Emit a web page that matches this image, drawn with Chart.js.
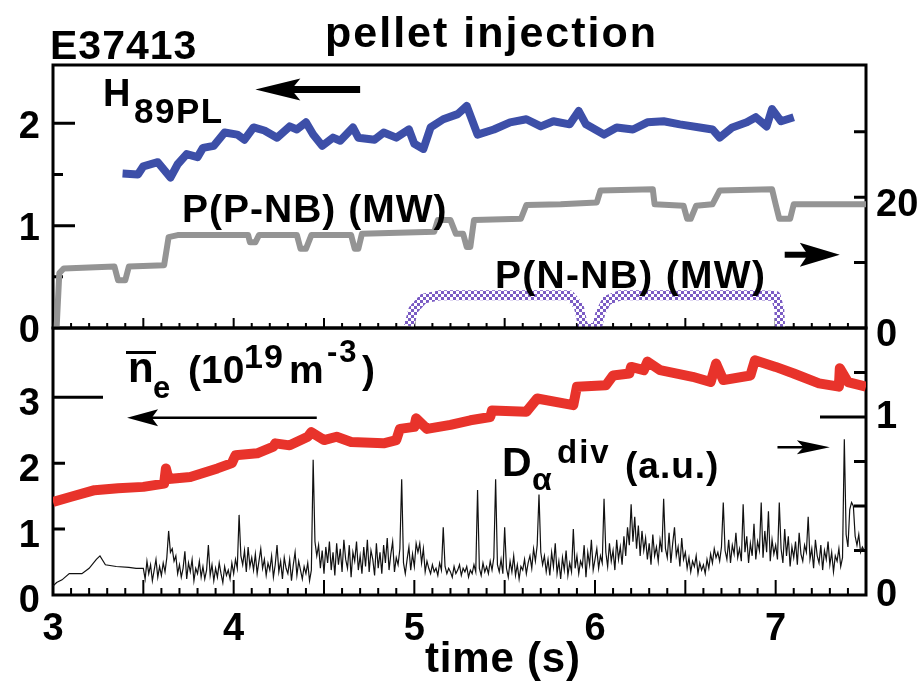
<!DOCTYPE html>
<html lang="en">
<head>
<meta charset="UTF-8">
<title>E37413 pellet injection</title>
<script src="https://cdn.jsdelivr.net/npm/chart.js"></script>
<style>
  body { margin: 0; background: #fff; }
  #wrap {
    position: relative; width: 922px; height: 685px; overflow: hidden;
    font-family: "Liberation Sans", Arial, sans-serif; font-weight: bold; color: #000;
  }
  #wrap canvas { position: absolute; left: 0; top: 0; }
  .t { position: absolute; line-height: 1; white-space: nowrap; }
</style>
</head>
<body>
<div id="wrap">
  <canvas id="topChart" width="922" height="685"></canvas>
  <canvas id="botChart" width="922" height="685"></canvas>

  <div class="t" style="left:50px;top:25px;font-size:41px;letter-spacing:1px">E37413</div>
  <div class="t" style="left:325px;top:11px;font-size:43px;letter-spacing:2px">pellet injection</div>

  <div class="t" style="left:103px;top:74px;font-size:38px">H</div>
  <div class="t" style="left:134px;top:93px;font-size:35px;letter-spacing:1.5px">89PL</div>
  <div class="t" style="left:182px;top:189px;font-size:39px;letter-spacing:1px">P(P-NB) (MW)</div>
  <div class="t" style="left:495px;top:255px;font-size:39px;letter-spacing:1.3px">P(N-NB) (MW)</div>

  <div class="t" style="left:128px;top:347px;font-size:42px">n</div>
  <div style="position:absolute;left:126px;top:351px;width:30px;height:3px;background:#000"></div>
  <div class="t" style="left:153px;top:372px;font-size:31px">e</div>
  <div class="t" style="left:188px;top:350px;font-size:39px">(10</div>
  <div class="t" style="left:244px;top:339px;font-size:34px;letter-spacing:1px">19</div>
  <div class="t" style="left:289px;top:350px;font-size:39px">m</div>
  <div class="t" style="left:327px;top:336px;font-size:31px;letter-spacing:2px">-3</div>
  <div class="t" style="left:362px;top:350px;font-size:39px">)</div>

  <div class="t" style="left:502px;top:442px;font-size:41px">D</div>
  <div class="t" style="left:532px;top:463px;font-size:32px">α</div>
  <div class="t" style="left:557px;top:435px;font-size:33px;letter-spacing:2px">div</div>
  <div class="t" style="left:625px;top:447px;font-size:37px;letter-spacing:1px">(a.u.)</div>

  <div class="t" style="left:425px;top:637px;font-size:42px;letter-spacing:0.8px">time (s)</div>
</div>

<script>
// H89PL (left axis, top panel)
const hTime = [3.385, 3.47, 3.50, 3.58, 3.65, 3.69, 3.74, 3.80, 3.83, 3.89, 3.95, 4.02, 4.06, 4.11, 4.17,
  4.24, 4.31, 4.35, 4.40, 4.44, 4.49, 4.55, 4.59, 4.66, 4.69, 4.78, 4.83, 4.90, 4.97, 5.00,
  5.05, 5.09, 5.16, 5.24, 5.29, 5.35, 5.44, 5.53, 5.62, 5.70, 5.77, 5.86, 5.91, 5.95, 6.05,
  6.12, 6.21, 6.29, 6.38, 6.47, 6.58, 6.65, 6.69, 6.76, 6.84, 6.89, 6.95, 6.98, 7.03, 7.10];
const hValue = [1.51, 1.50, 1.58, 1.62, 1.47, 1.60, 1.70, 1.67, 1.76, 1.78, 1.91, 1.89, 1.84, 1.96, 1.93,
  1.86, 1.97, 1.94, 2.01, 1.89, 1.78, 1.86, 1.83, 1.96, 1.86, 1.84, 1.91, 1.86, 1.94, 1.80,
  1.75, 1.96, 2.04, 2.09, 2.17, 1.89, 1.94, 2.01, 2.04, 1.97, 2.02, 1.99, 2.12, 1.99, 1.89,
  1.96, 1.94, 2.01, 2.02, 1.99, 1.96, 1.94, 1.86, 1.96, 2.01, 2.06, 1.97, 2.14, 2.02, 2.06];

// P(P-NB) in MW (right axis, top panel)
const pTime = [3.02, 3.035, 3.06, 3.34, 3.36, 3.40, 3.42, 3.615, 3.64, 3.69, 4.08, 4.09, 4.12, 4.14, 4.35,
  4.37, 4.40, 4.43, 4.65, 4.67, 4.69, 4.71, 5.11, 5.13, 5.20, 5.23, 5.27, 5.29, 5.31, 5.33,
  5.59, 5.62, 5.81, 6.01, 6.03, 6.32, 6.33, 6.49, 6.51, 6.53, 6.56, 6.65, 6.69, 6.98, 7.00,
  7.02, 7.08, 7.10, 7.50];
const pValue = [0, 8.4, 9.1, 9.4, 7.3, 7.3, 9.4, 9.6, 13.9, 14.2, 14.2, 13.1, 13.1, 14.2, 14.2,
  12.1, 12.1, 14.2, 14.2, 12.1, 12.1, 14.4, 14.7, 16.5, 16.5, 14.4, 14.4, 12.4, 12.4, 16.5,
  16.7, 18.8, 18.9, 19.2, 21.0, 21.2, 18.9, 18.7, 16.7, 16.7, 18.7, 18.9, 21.0, 21.2, 18.9,
  16.7, 16.7, 18.9, 18.9];

// P(N-NB) in MW (right axis, top panel)
const nTime = [4.97, 4.995, 5.05, 5.14, 5.30, 5.86, 5.91, 5.93, 5.935, 6.01, 6.03, 6.065, 6.14, 6.91, 7.00, 7.02, 7.025];
const nValue = [0.3, 2.8, 4.5, 5.0, 5.0, 5.0, 3.3, 0.8, 0, 0, 2.3, 4.2, 5.0, 5.0, 4.9, 2.8, 0];

// line-averaged density, 10^19 m^-3 (left axis, bottom panel)
const neTime = [3.00, 3.10, 3.23, 3.36, 3.50, 3.615, 3.625, 3.64, 3.76, 3.91, 3.99, 4.01, 4.13, 4.22, 4.23,
  4.31, 4.41, 4.43, 4.50, 4.57, 4.65, 4.83, 4.90, 4.92, 5.00, 5.01, 5.07, 5.20, 5.31, 5.42,
  5.43, 5.62, 5.68, 5.88, 5.90, 6.06, 6.10, 6.19, 6.20, 6.27, 6.29, 6.36, 6.54, 6.64, 6.67,
  6.71, 6.86, 6.885, 7.00, 7.10, 7.24, 7.35, 7.355, 7.40, 7.50];
const neValue = [1.41, 1.49, 1.59, 1.62, 1.64, 1.69, 1.92, 1.76, 1.79, 1.92, 2.00, 2.12, 2.15, 2.25, 2.30,
  2.27, 2.40, 2.47, 2.35, 2.40, 2.32, 2.30, 2.35, 2.52, 2.55, 2.68, 2.52, 2.58, 2.65, 2.70,
  2.80, 2.78, 2.98, 2.88, 3.16, 3.18, 3.33, 3.36, 3.46, 3.41, 3.54, 3.41, 3.31, 3.23, 3.51,
  3.26, 3.33, 3.56, 3.46, 3.36, 3.21, 3.16, 3.44, 3.23, 3.16];

// D-alpha divertor (a.u., right axis, bottom panel): slow start, then sampled every 0.01 s
const daEarlyTime = [3.00, 3.02, 3.05, 3.09, 3.16, 3.20, 3.24, 3.26, 3.29, 3.35, 3.42, 3.46];
const daEarlyValue = [0.05, 0.07, 0.085, 0.12, 0.12, 0.15, 0.20, 0.22, 0.17, 0.16, 0.155, 0.15];
const daStart = 3.50, daStep = 0.01;
const daValue = [
  0.15, 0.09, 0.19, 0.12, 0.17, 0.08, 0.14, 0.20, 0.10, 0.16,
  0.11, 0.18, 0.13, 0.21, 0.36, 0.24, 0.26, 0.19, 0.22, 0.12,
  0.17, 0.10, 0.15, 0.245, 0.09, 0.18, 0.13, 0.20, 0.08, 0.15,
  0.12, 0.19, 0.10, 0.16, 0.09, 0.14, 0.28, 0.11, 0.17, 0.08,
  0.15, 0.10, 0.18, 0.12, 0.07, 0.16, 0.11, 0.14, 0.09, 0.18,
  0.12, 0.20, 0.15, 0.45, 0.22, 0.17, 0.25, 0.13, 0.27, 0.16,
  0.21, 0.14, 0.23, 0.12, 0.19, 0.26, 0.15, 0.20, 0.11, 0.18,
  0.14, 0.22, 0.10, 0.17, 0.28, 0.13, 0.19, 0.09, 0.21, 0.15,
  0.12, 0.20, 0.08, 0.17, 0.24, 0.11, 0.19, 0.14, 0.09, 0.16,
  0.12, 0.18, 0.08, 0.14, 0.76, 0.30, 0.22, 0.28, 0.15, 0.25,
  0.12, 0.27, 0.18, 0.30, 0.14, 0.24, 0.11, 0.29, 0.17, 0.26,
  0.13, 0.31, 0.20, 0.15, 0.28, 0.10, 0.24, 0.19, 0.30, 0.14,
  0.22, 0.12, 0.27, 0.16, 0.31, 0.13, 0.25, 0.20, 0.11, 0.29,
  0.15, 0.24, 0.12, 0.28, 0.18, 0.32, 0.14, 0.23, 0.30, 0.13,
  0.21, 0.17, 0.26, 0.65, 0.18, 0.12, 0.20, 0.27, 0.14, 0.23,
  0.16, 0.29, 0.24, 0.29, 0.18, 0.26, 0.13, 0.19, 0.15, 0.12,
  0.17, 0.13, 0.15, 0.11, 0.18, 0.14, 0.38, 0.16, 0.12, 0.15,
  0.13, 0.10, 0.16, 0.12, 0.14, 0.17, 0.11, 0.15, 0.13, 0.16,
  0.10, 0.14, 0.12, 0.17, 0.13, 0.59, 0.15, 0.11, 0.18, 0.13,
  0.16, 0.12, 0.19, 0.14, 0.21, 0.65, 0.17, 0.13, 0.20, 0.12,
  0.38, 0.15, 0.10, 0.19, 0.13, 0.22, 0.11, 0.17, 0.09, 0.16,
  0.14, 0.20, 0.12, 0.18, 0.22, 0.15, 0.26, 0.19, 0.28, 0.565,
  0.24, 0.17, 0.22, 0.13, 0.20, 0.11, 0.24, 0.16, 0.29, 0.12,
  0.19, 0.09, 0.21, 0.14, 0.25, 0.11, 0.18, 0.13, 0.37, 0.15,
  0.22, 0.12, 0.19, 0.16, 0.28, 0.10, 0.24, 0.17, 0.31, 0.14,
  0.20, 0.26, 0.15, 0.22, 0.18, 0.54, 0.24, 0.16, 0.29, 0.19,
  0.25, 0.14, 0.31, 0.20, 0.27, 0.17, 0.33, 0.22, 0.38, 0.28,
  0.51, 0.30, 0.44, 0.26, 0.39, 0.22, 0.36, 0.25, 0.32, 0.20,
  0.29, 0.17, 0.34, 0.22, 0.27, 0.19, 0.31, 0.24, 0.54, 0.26,
  0.21, 0.35, 0.18, 0.29, 0.38, 0.22, 0.27, 0.16, 0.32, 0.20,
  0.24, 0.15, 0.21, 0.13, 0.19, 0.16, 0.22, 0.12, 0.18, 0.14,
  0.17, 0.12, 0.20, 0.15, 0.23, 0.18, 0.26, 0.21, 0.24, 0.19,
  0.27, 0.52, 0.25, 0.20, 0.31, 0.18, 0.28, 0.23, 0.35, 0.21,
  0.26, 0.19, 0.51, 0.24, 0.33, 0.18, 0.29, 0.22, 0.40, 0.20,
  0.30, 0.25, 0.52, 0.21, 0.36, 0.24, 0.47, 0.19, 0.31, 0.23,
  0.28, 0.20, 0.52, 0.26, 0.18, 0.37, 0.22, 0.33, 0.16, 0.27,
  0.21, 0.30, 0.17, 0.35, 0.23, 0.19, 0.28, 0.24, 0.44, 0.20,
  0.26, 0.15, 0.31, 0.22, 0.18, 0.28, 0.14, 0.25, 0.20, 0.30,
  0.17, 0.24, 0.13, 0.22, 0.19, 0.26, 0.16, 0.21, 0.875, 0.34,
  0.27, 0.48, 0.52, 0.50, 0.33, 0.28, 0.34, 0.24, 0.27, 0.25];

// labelled ticks and inward tick marks
const hLabelTicks = [0, 1, 2];
const pLabelTicks = [0, 20];
const neLabelTicks = [0, 1, 2, 3];
const daLabelTicks = [0, 1];
const hMajorTicks = [1, 2];
const hMinorTicks = [0.5, 1.5];
const pTicks = [10, 20, 30];
const neShortTicks = [1, 2];
const neLongTicks = [3];
const daShortTicks = [0.25, 0.5, 0.75, 1.25];
const daLongTicks = [1];

const pts = (xs, ys) => xs.map((x, i) => ({ x: x, y: ys[i] }));
const daPoints = pts(daEarlyTime, daEarlyValue)
  .concat(daValue.map((v, i) => ({ x: +(daStart + i * daStep).toFixed(2), y: v })));
const fixedTicks = list => s => { s.ticks = list.map(v => ({ value: v })); };

const fontFamily = '"Liberation Sans", Arial, sans-serif';
const tickFont = { family: fontFamily, size: 38, weight: 'bold' };

// checkered purple stroke for P(N-NB)
const pc = document.createElement('canvas');
pc.width = 6; pc.height = 6;
const pctx = pc.getContext('2d');
pctx.fillStyle = '#ffffff'; pctx.fillRect(0, 0, 6, 6);
pctx.fillStyle = '#7b5cc4';
pctx.fillRect(0, 0, 3, 3); pctx.fillRect(3, 3, 3, 3);
const checker = pctx.createPattern(pc, 'repeat');

const panelDecor = {
  id: 'panelDecor',
  beforeDatasetsDraw(chart, args, o) {
    const { ctx, chartArea: a, scales } = chart;
    ctx.save();
    ctx.strokeStyle = '#000';
    ctx.lineWidth = o.frameWidth;
    ctx.strokeRect(a.left, a.top, a.right - a.left, a.bottom - a.top);
    ctx.lineWidth = 2;
    ctx.beginPath();
    scales.x.ticks.forEach(t => {
      const px = scales.x.getPixelForValue(t.value);
      const half = Math.abs(t.value * 2 - Math.round(t.value * 2)) < 1e-6;
      ctx.moveTo(px, a.bottom);
      ctx.lineTo(px, a.bottom - (half ? o.xLong : o.xShort));
    });
    ctx.stroke();
    ctx.lineWidth = 3;
    ctx.beginPath();
    o.yTicks.forEach(g => {
      const s = scales[g.axis];
      g.values.forEach(v => {
        const py = s.getPixelForValue(v);
        if (s.position === 'left') { ctx.moveTo(a.left, py); ctx.lineTo(a.left + g.len, py); }
        else { ctx.moveTo(a.right, py); ctx.lineTo(a.right - g.len, py); }
      });
    });
    ctx.stroke();
    ctx.restore();
  },
  afterDatasetsDraw(chart, args, o) {
    const { ctx, scales } = chart;
    ctx.save();
    ctx.strokeStyle = '#000';
    ctx.fillStyle = '#000';
    o.arrows.forEach(ar => {
      const xs = scales.x, ys = scales[ar.y];
      const x1 = xs.getPixelForValue(ar.from), x2 = xs.getPixelForValue(ar.to);
      const y = ys.getPixelForValue(ar.at);
      const dir = Math.sign(x2 - x1);
      const hb = x2 - dir * ar.head;
      ctx.lineWidth = ar.width;
      ctx.beginPath(); ctx.moveTo(x1, y); ctx.lineTo(hb + dir * ar.head * 0.3, y); ctx.stroke();
      ctx.beginPath();
      ctx.moveTo(x2, y);
      ctx.lineTo(hb, y - ar.half);
      ctx.lineTo(hb + dir * ar.head * 0.2, y);
      ctx.lineTo(hb, y + ar.half);
      ctx.closePath();
      ctx.fill();
    });
    ctx.restore();
  }
};

const hiddenGrid = { display: false, drawTicks: false };

new Chart(document.getElementById('topChart'), {
  type: 'line',
  data: {
    datasets: [
      { data: pts(pTime, pValue), yAxisID: 'yP', borderColor: '#949494', borderWidth: 6 },
      { data: pts(nTime, nValue), yAxisID: 'yP', borderColor: checker, borderWidth: 10 },
      { data: pts(hTime, hValue), yAxisID: 'yH', borderColor: '#3d4fa8', borderWidth: 8 }
    ]
  },
  options: {
    responsive: false,
    animation: false,
    layout: { padding: { top: 65, bottom: 685 - 328, left: 0, right: 0 } },
    elements: {
      point: { radius: 0 },
      line: { tension: 0, borderJoinStyle: 'round', borderCapStyle: 'butt' }
    },
    plugins: {
      legend: { display: false },
      tooltip: { enabled: false },
      panelDecor: {
        frameWidth: 3, xShort: 5, xLong: 10,
        yTicks: [
          { axis: 'yH', values: hMajorTicks, len: 22 },
          { axis: 'yH', values: hMinorTicks, len: 10 },
          { axis: 'yP', values: pTicks, len: 12 }
        ],
        arrows: [
          { y: 'yH', from: 4.70, to: 4.12, at: 2.33, width: 7, head: 45, half: 11 },
          { y: 'yP', from: 7.05, to: 7.355, at: 11.2, width: 6, head: 40, half: 12 }
        ]
      }
    },
    scales: {
      x: {
        type: 'linear', min: 3, max: 7.5,
        ticks: { display: false, stepSize: 0.1, autoSkip: false },
        grid: hiddenGrid, border: { display: false },
        afterFit(s) { s.height = 0; }
      },
      yH: {
        position: 'left', min: 0, max: 2.57,
        afterBuildTicks: fixedTicks(hLabelTicks),
        ticks: { autoSkip: false, font: tickFont, color: '#000', padding: 13, labelOffset: 4 },
        grid: hiddenGrid, border: { display: false },
        afterFit(s) { s.width = 53; }
      },
      yP: {
        position: 'right', min: 0, max: 40.2,
        afterBuildTicks: fixedTicks(pLabelTicks),
        ticks: { autoSkip: false, font: tickFont, color: '#000', padding: 10, labelOffset: 8 },
        grid: hiddenGrid, border: { display: false },
        afterFit(s) { s.width = 56; }
      }
    }
  },
  plugins: [panelDecor]
});

new Chart(document.getElementById('botChart'), {
  type: 'line',
  data: {
    datasets: [
      { data: daPoints, yAxisID: 'yD', borderColor: '#111111', borderWidth: 1.2, borderJoinStyle: 'miter' },
      { data: pts(neTime, neValue), yAxisID: 'yN', borderColor: '#e8332b', borderWidth: 10 }
    ]
  },
  options: {
    responsive: false,
    animation: false,
    layout: { padding: { top: 328, bottom: 0, left: 0, right: 0 } },
    elements: {
      point: { radius: 0 },
      line: { tension: 0, borderJoinStyle: 'round', borderCapStyle: 'butt' }
    },
    plugins: {
      legend: { display: false },
      tooltip: { enabled: false },
      panelDecor: {
        frameWidth: 3, xShort: 7, xLong: 15,
        yTicks: [
          { axis: 'yN', values: neShortTicks, len: 12 },
          { axis: 'yN', values: neLongTicks, len: 50 },
          { axis: 'yD', values: daShortTicks, len: 12 },
          { axis: 'yD', values: daLongTicks, len: 46 }
        ],
        arrows: [
          { y: 'yN', from: 4.46, to: 3.41, at: 2.69, width: 2.5, head: 31, half: 8.5 },
          { y: 'yD', from: 7.01, to: 7.30, at: 0.83, width: 2.5, head: 33, half: 7 }
        ]
      }
    },
    scales: {
      x: {
        type: 'linear', min: 3, max: 7.5,
        ticks: {
          stepSize: 0.1, autoSkip: false, maxRotation: 0, minRotation: 0,
          font: tickFont, color: '#000', padding: 12,
          callback: v => (Math.abs(v - Math.round(v)) < 1e-6 ? String(Math.round(v)) : '')
        },
        grid: hiddenGrid, border: { display: false },
        afterFit(s) { s.height = 685 - 595; }
      },
      yN: {
        position: 'left', min: 0, max: 4.05,
        afterBuildTicks: fixedTicks(neLabelTicks),
        ticks: { autoSkip: false, font: tickFont, color: '#000', padding: 13, labelOffset: 7 },
        grid: hiddenGrid, border: { display: false },
        afterFit(s) { s.width = 53; }
      },
      yD: {
        position: 'right', min: 0, max: 1.5,
        afterBuildTicks: fixedTicks(daLabelTicks),
        ticks: { autoSkip: false, font: tickFont, color: '#000', padding: 10, labelOffset: 1 },
        grid: hiddenGrid, border: { display: false },
        afterFit(s) { s.width = 56; }
      }
    }
  },
  plugins: [panelDecor]
});
</script>
</body>
</html>
